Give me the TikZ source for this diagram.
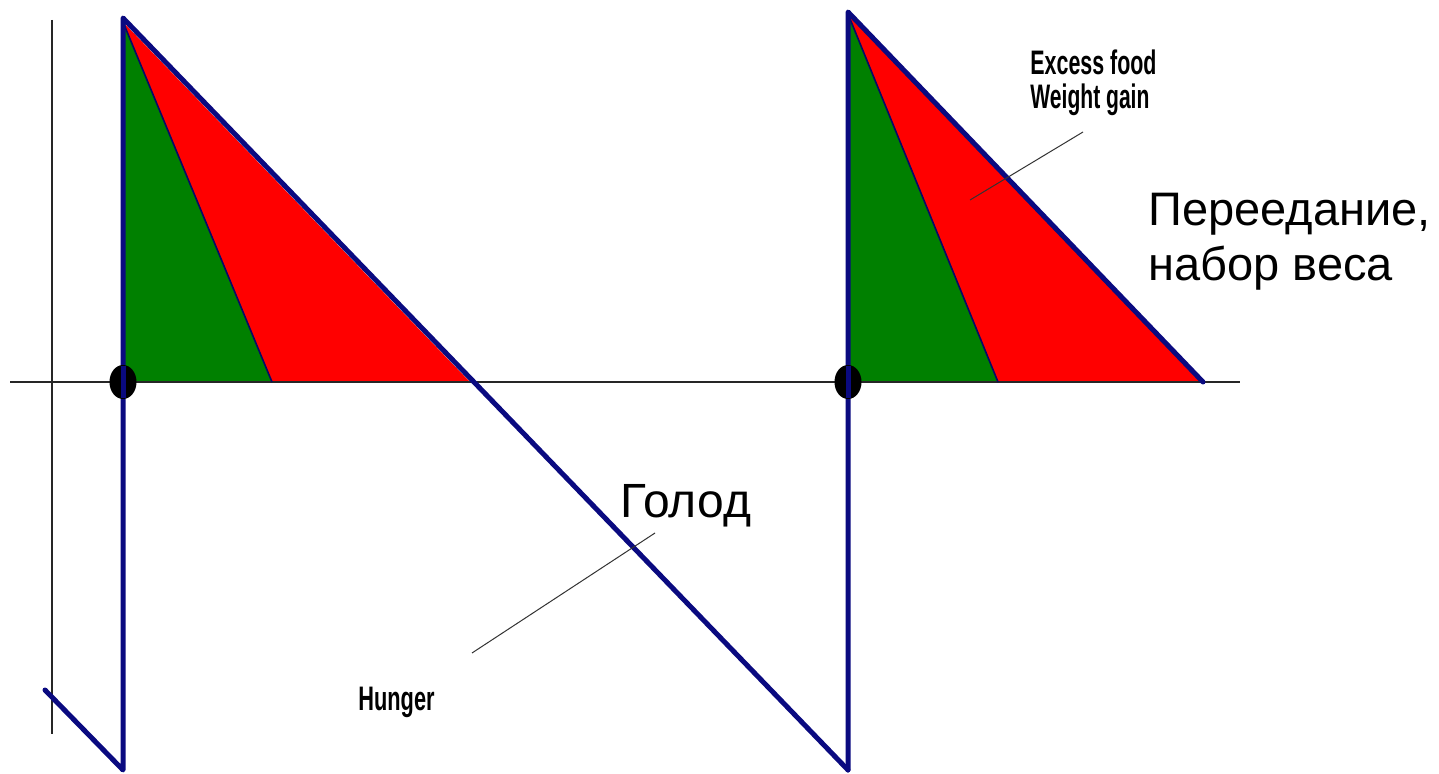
\documentclass[tikz,border=0pt]{standalone}
\usepackage{fontspec}
\setmainfont{Liberation Sans}
\begin{document}
\begin{tikzpicture}[x=0.5pt,y=-0.5pt,
  bluel/.style={draw=navyc,line width=2.5pt,line cap=round,line join=round},
  axisl/.style={draw=black!85,line width=0.9pt},
  splitl/.style={draw=navyc!80!black,line width=0.8pt},
  leader/.style={draw=black!80,line width=0.5pt},
  rulab/.style={font=\fontsize{23.5}{28}\selectfont,inner sep=0pt,anchor=base west},
  enlab/.style={font=\fontsize{17}{20}\bfseries\selectfont,inner sep=0pt,anchor=base west}]
\definecolor{navyc}{RGB}{10,10,128}
\definecolor{greenc}{RGB}{0,128,0}
\definecolor{redc}{RGB}{255,0,0}
\useasboundingbox[fill=white] (0,0) rectangle (1439,774);
% coordinates
\coordinate (A1) at (123,22);
\coordinate (B1) at (123,382);
\coordinate (S1) at (272,382);
\coordinate (H1) at (470,382);
\coordinate (A2) at (848,14);
\coordinate (B2) at (848,382);
\coordinate (S2) at (998,382);
\coordinate (H2) at (1203,382);
\coordinate (L1) at (123,770);
\coordinate (L2) at (848,770);
\coordinate (L0) at (45,690);
% fills
\fill[greenc] (A1) -- (S1) -- (B1) -- cycle;
\fill[redc] (A1) -- (H1) -- (S1) -- cycle;
\fill[greenc] (A2) -- (S2) -- (B2) -- cycle;
\fill[redc] (A2) -- (H2) -- (S2) -- cycle;
% axes
\draw[axisl] (52,20) coordinate (VA) -- (52,734) coordinate (VB);
\draw[axisl] (10,382) coordinate (HA) -- (1240,382) coordinate (HB);
% split lines
\draw[splitl] (A1) -- (S1);
\draw[splitl] (A2) -- (S2);
% blue saw-tooth
\draw[bluel] (L0) -- (L1) -- (123,18) -- (L2);
\draw[bluel] (L2) -- (848,12) -- (H2);
% dots
\fill[black] (B1) ellipse [x radius=13.5, y radius=17];
\fill[black] (B2) ellipse [x radius=13.5, y radius=17];
\draw[navyc,line width=2.5pt] (123,366) -- (123,398);
\draw[navyc,line width=2.5pt] (848,366) -- (848,398);
% leaders
\coordinate (E1) at (1083,132);
\coordinate (E2) at (970,200);
\draw[leader] (E1) -- (E2);
\coordinate (G1) at (655,533);
\coordinate (G2) at (472,653);
\draw[leader] (G1) -- (G2);
% labels
\node[enlab] (excess) at (1030,75) {\scalebox{0.63}[1]{Excess food}};
\node[enlab] (weight) at (1030,109) {\scalebox{0.62}[1]{Weight gain}};
\node[enlab] (hunger) at (358,710) {\scalebox{0.64}[1]{Hunger}};
\node[rulab,font=\fontsize{24}{28}\selectfont] (golod) at (620,517) {Голод};
\node[rulab] (pere) at (1148,226) {Переедание,};
\node[rulab] (nabor) at (1148,281) {набор веса};
\end{tikzpicture}
\end{document}
